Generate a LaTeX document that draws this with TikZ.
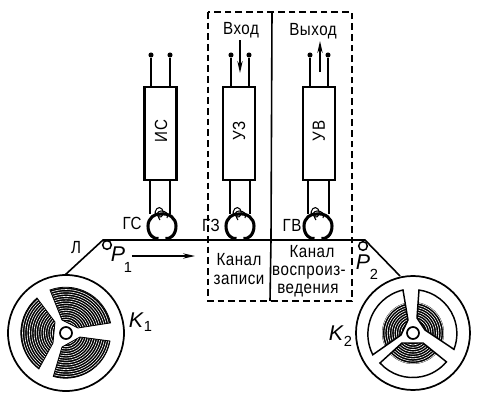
\documentclass[tikz,border=0pt]{standalone}
\usepackage{fontspec}
\setmainfont{Liberation Sans}
\newfontfamily\labelfont[FakeStretch=0.86,LetterSpace=3]{Liberation Sans}
\usetikzlibrary{arrows.meta}
\tikzset{
  unitbox/.style={draw,line width=1.7pt,minimum width=24pt,minimum height=70pt,inner sep=0pt,anchor=north},
  term/.style={circle,fill=black,inner sep=0pt,minimum size=3.8pt},
  wire/.style={line width=1pt},
  lbl/.style={font=\labelfont\fontsize{13.2}{14}\selectfont,inner sep=0pt},
  sym/.style={font=\fontsize{16}{16}\selectfont\itshape,inner sep=0pt},
  subs/.style={font=\fontsize{11}{11}\selectfont,inner sep=0pt},
  roller/.style={circle,draw,line width=1.1pt,fill=white,minimum size=6.5pt,inner sep=0pt},
  tape/.style={line width=1.2pt},
  flow/.style={line width=0.9pt,-{Stealth[length=9pt,width=4pt]}},
  frame/.style={line width=0.9pt,dash pattern=on 5pt off 3pt},
  pics/head/.style={code={
    \draw[line width=2.3pt] (-3.5,12.5) .. controls (-8,13.5) and (-14,9) .. (-14,0)
       .. controls (-14,-8) and (-7,-13) .. (-1,-12)
       .. controls (7,-13) and (14,-8) .. (14,0)
       .. controls (14,9) and (8,13.5) .. (3.5,12.5);
    \draw[line width=0.8pt] (-6,-10) .. controls (-9,-16) and (-3,-21) .. (0,-17)
       .. controls (3,-13) and (0,-8) .. (-3,-9) .. controls (-6,-10) and (-5,-15) .. (-1,-15)
       .. controls (4,-15) and (7,-12) .. (5,-8);
    \draw[line width=0.8pt] (-2,-6) .. controls (-5,-9) and (-3,-13) .. (1,-12);
  }}
}
\newcommand{\reelwin}[7]{% clip path #1, centre (#2,#3), r from #4 to #5, outline width #6, step #7
  \begin{scope}
    \clip #1;
    \fill[black] (#2,#3) circle (#5);
    \pgfmathsetmacro{\rstep}{#4+#7}
    \foreach \rr in {#4,\rstep,...,#5}{
      \draw[white,line width=0.45pt] (#2,#3) circle (\rr);
    }
  \end{scope}
  \draw[line width=#6] #1;
}
\begin{document}
\begin{tikzpicture}[x=0.75pt,y=-0.75pt]
\useasboundingbox (0,0) rectangle (480,400);
\fill[white] (0,0) rectangle (480,400);

% dashed frame and divider
\draw[frame] (208,12) rectangle (352,301);
\coordinate (divT) at (272,12);
\coordinate (divM) at (271,240);
\coordinate (divB) at (270,301);
\draw[line width=1.2pt] (divT) -- (divM) -- (divB);

% boxes
\node[unitbox] (is) at (160.5,85.5) {};
\node[unitbox] (uz) at (239,85.5) {};
\node[unitbox] (uv) at (319,85.5) {};
\node[lbl,rotate=90] at (161,131) {ИС};
\node[lbl,rotate=90] at (239,131) {УЗ};
\node[lbl,rotate=90] at (319,131) {УВ};

% terminals
\foreach \n/\b/\xa/\xb/\ya/\yb in {is/is/151/170/55/55,uz/uz/231/249/55/55,uv/uv/310/328/55/55}{
  \node[term] (\n a) at (\xa,\ya) {};
  \node[term] (\n b) at (\xb,\yb) {};
  \draw[wire] (\n a) -- (\n a |- \b.north);
  \draw[wire] (\n b) -- (\n b |- \b.north);
}

% tape
\coordinate (reelL) at (65,275);
\coordinate (tapeL) at (103,240);
\coordinate (tapeR) at (365,240);
\coordinate (reelR) at (400,276);
\draw[tape] (reelL) -- (tapeL) -- (tapeR) -- (reelR);
\node[roller] (p1) at (107,245) {};
\node[roller] (p2) at (363,246) {};

% heads
\pic at (162,226) {head};
\pic at (240,226) {head};
\pic at (318,226) {head};
\foreach \b/\xa/\xb in {is/150/170,uz/230/250,uv/308/329}{
  \coordinate (\b L) at (\xa,214);
  \coordinate (\b R) at (\xb,214);
  \draw[wire] (\b L |- \b.south) -- (\b L);
  \draw[wire] (\b R |- \b.south) -- (\b R);
}

% texts
\node[lbl] at (241,30) {Вход};
\node[lbl] at (313,31) {Выход};
\coordinate (inA) at (240,40); \coordinate (inB) at (240,73);
\coordinate (outA) at (320,72); \coordinate (outB) at (320,41);
\draw[flow] (inA) -- (inB);
\draw[flow] (outA) -- (outB);
\node[lbl] at (132,223) {ГС};
\node[lbl] at (211,225) {ГЗ};
\node[lbl] at (292,225) {ГВ};
\node[lbl] at (239,260) {Канал};
\node[lbl] at (239,280) {записи};
\node[lbl] at (312,252) {Канал};
\node[lbl] at (309,273) {воспроиз-};
\node[lbl] at (308,291) {ведения};
\node[lbl] at (76,248) {Л};
\node[sym] at (118,254) {P}; \node[subs] at (128,267) {1};
\node[sym] at (363,262) {P}; \node[subs] at (374,274) {2};
\node[sym] at (136,320) {K}; \node[subs] at (148,326) {1};
\node[sym] at (336,333) {K}; \node[subs] at (348,341) {2};
\coordinate (mvA) at (132,256); \coordinate (mvB) at (195,256);
\draw[flow] (mvA) -- (mvB);

% reel 1
\draw[line width=1.3pt] (66,333) circle (58);
\reelwin{(50,290) arc[start angle=110,end angle=13,radius=34.5pt] -- (78,328) -- (62,320) -- cycle}{66}{333}{9}{52}{0.6pt}{2.3}
\reelwin{(110,341) arc[start angle=-10,end angle=-106,radius=33.75pt] -- (62,347) -- (80,337) -- cycle}{66}{333}{9}{52}{0.6pt}{2.3}
\reelwin{(37,298) arc[start angle=130,end angle=233,radius=34pt] -- (53,343) -- (55,322) -- cycle}{66}{333}{9}{52}{0.6pt}{2.3}
\draw[line width=1.3pt] (66,333) circle (6);

% reel 2
\draw[line width=1.3pt] (413,333) circle (57);
\reelwin{(403,290) arc[start angle=103,end angle=207,radius=34pt] -- (401,335) -- (408,320) -- cycle}{413}{333}{12}{31}{1.1pt}{2.3}
\reelwin{(419,290) arc[start angle=82,end angle=-21,radius=33pt] -- (425,330) -- (417,318) -- cycle}{413}{333}{12}{31}{1.1pt}{2.3}
\reelwin{(380,363) arc[start angle=222,end angle=320,radius=33pt] -- (423,343) -- (402,343) -- cycle}{413}{333}{12}{31}{1.1pt}{2.3}
\draw[line width=1.3pt] (413,333) circle (6);
\end{tikzpicture}
\end{document}
